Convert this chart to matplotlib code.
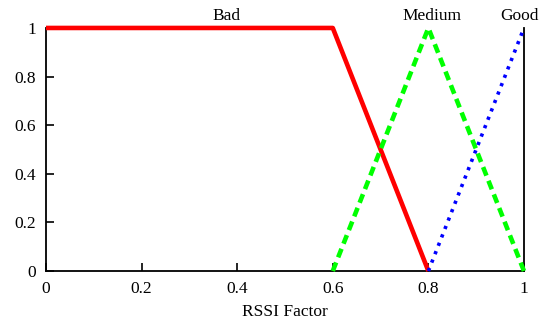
import matplotlib.pyplot as plt

plt.rcParams["font.family"] = "Liberation Serif"

# membership functions for the RSSI factor
bad_x = [0, 0.6, 0.8]
bad_y = [1, 1, 0]
medium_x = [0.6, 0.8, 1.0]
medium_y = [0, 1, 0]
good_x = [0.8, 1.0]
good_y = [0, 1]

labels = ["Bad", "Medium", "Good"]
label_x = [0.377, 0.807, 0.99]

ticks = [0, 0.2, 0.4, 0.6, 0.8, 1]
tick_labels = ["0", "0.2", "0.4", "0.6", "0.8", "1"]

fig = plt.figure(figsize=(5.45, 3.29), dpi=100)
ax = fig.add_axes([0.0844, 0.1763, 0.877, 0.7387])

ax.plot(bad_x, bad_y, color="#ff0000", lw=3.3, solid_capstyle="butt", clip_on=False, zorder=3)
ax.plot(medium_x, medium_y, color="#00ff00", lw=3.3, linestyle=(0, (2.0, 1.2)), clip_on=False, zorder=3)
ax.plot(good_x, good_y, color="#0000ff", lw=2.6, linestyle=(0, (0.9, 1.6)), clip_on=False, zorder=3)

for name, x in zip(labels, label_x):
    ax.text(x, 1.05, name, ha="center", va="center", fontsize=12.5)

ax.set_xlim(0, 1)
ax.set_ylim(0, 1)
ax.set_xticks(ticks)
ax.set_xticklabels(tick_labels)
ax.set_yticks(ticks)
ax.set_yticklabels(tick_labels)
ax.tick_params(direction="in", length=6, width=1.2, labelsize=12.5, pad=7,
               top=False, right=False)
ax.spines["top"].set_visible(False)
for s in ["left", "bottom", "right"]:
    ax.spines[s].set_linewidth(1.3)
ax.set_xlabel("RSSI Factor", fontsize=12.5, labelpad=5)

fig.savefig("out.png", dpi=100)
